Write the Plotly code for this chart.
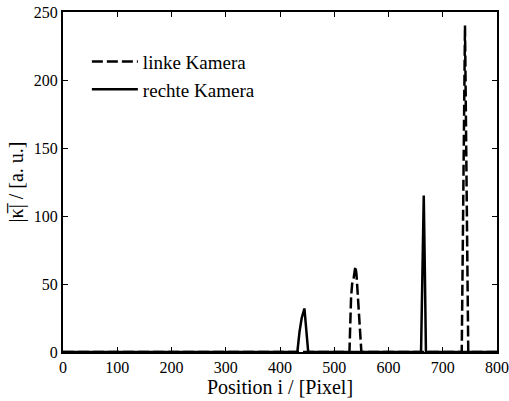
import plotly.graph_objects as go

# linke Kamera (dashed)
left_x = [0, 528, 531, 533, 536, 538, 539, 541, 543, 545, 546, 548, 550, 735, 738, 740, 741, 742, 744, 747, 800]
left_y = [0, 0, 40, 50, 55, 60, 63, 57, 45, 25, 20, 10, 0, 0, 120, 200, 240, 200, 100, 0, 0]

# rechte Kamera (solid)
right_x = [0, 432, 436, 440, 445, 448, 452, 660, 663, 665, 667, 669, 800]
right_y = [0, 0, 15, 25, 32, 20, 0, 0, 60, 115, 60, 0, 0]

x_ticks = [0, 100, 200, 300, 400, 500, 600, 700, 800]
y_ticks = [0, 50, 100, 150, 200, 250]

font = "Liberation Serif"

fig = go.Figure()
fig.add_trace(go.Scatter(x=left_x, y=left_y, mode="lines", name="linke Kamera",
                         line=dict(color="black", width=2.5, dash="11px,4px")))
fig.add_trace(go.Scatter(x=right_x, y=right_y, mode="lines", name="rechte Kamera",
                         line=dict(color="black", width=2.5)))

axis_common = dict(showgrid=False, zeroline=False, showline=True, linecolor="black",
                   linewidth=2, mirror="ticks", ticks="inside", ticklen=5, tickcolor="black",
                   automargin=False,
                   tickfont=dict(family=font, size=16, color="black"))

fig.update_layout(
    width=509, height=401,
    margin=dict(l=63, r=12, t=12, b=49),
    paper_bgcolor="white", plot_bgcolor="white",
    font=dict(family=font, color="black"),
    showlegend=True,
    legend=dict(x=0.055, y=0.91, xanchor="left", yanchor="top",
                bgcolor="rgba(0,0,0,0)", font=dict(family=font, size=19, color="black"),
                tracegroupgap=0, itemwidth=46),
    xaxis=dict(range=[0, 800], tickvals=x_ticks, title=dict(text="Position i / [Pixel]",
               font=dict(family=font, size=20), standoff=2), **axis_common),
    yaxis=dict(range=[0, 250], tickvals=y_ticks, title=dict(text="|κ\u0305| / [a. u.]",
               font=dict(family=font, size=20), standoff=5), **axis_common),
)

fig.write_html("out.html")
